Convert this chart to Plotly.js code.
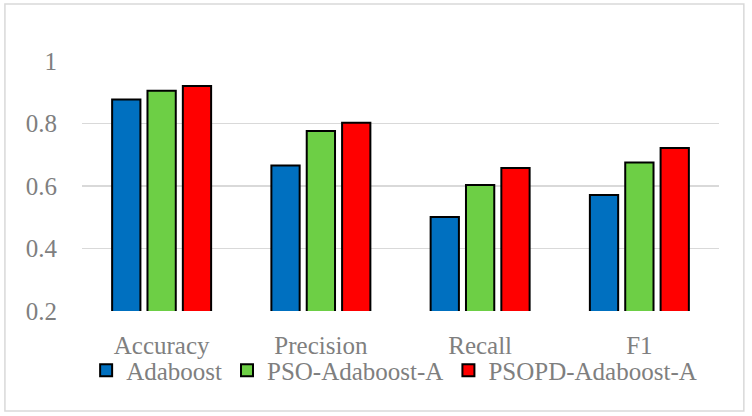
<!DOCTYPE html>
<html>
<head>
<meta charset="utf-8">
<script src="https://cdn.plot.ly/plotly-3.0.1.min.js"></script>
<style>html,body{margin:0;padding:0;background:#fff;}#chart{width:752px;height:416px;}</style>
</head>
<body>
<div id="chart"></div>
<script>
const categories = ["Accuracy", "Precision", "Recall", "F1"];
const seriesNames = ["Adaboost", "PSO-Adaboost-A", "PSOPD-Adaboost-A"];
const adaboost = [0.877, 0.666, 0.501, 0.571];
const psoAdaboostA = [0.905, 0.776, 0.603, 0.675];
const psopdAdaboostA = [0.920, 0.802, 0.658, 0.722];
const yTicks = [0.2, 0.4, 0.6, 0.8, 1];
const yTickLabels = ["0.2", "0.4", "0.6", "0.8", "1"];
const colors = ["#0070C0", "#6DCF45", "#FF0000"];

const font = "Liberation Serif";
const gray = "#7F7F7F";
const values = [adaboost, psoAdaboostA, psopdAdaboostA];
const traces = values.map((v, i) => ({
  type: "bar",
  name: seriesNames[i],
  x: categories,
  y: v,
  marker: {color: colors[i], line: {color: "#000", width: 2}},
  hoverinfo: "none"
}));

const layout = {
  width: 752, height: 416,
  font: {family: font, color: gray},
  margin: {l: 82, r: 33, t: 61, b: 105},
  paper_bgcolor: "#fff", plot_bgcolor: "#fff",
  barmode: "group", bargap: 0.334, bargroupgap: 0.2,
  showlegend: true,
  legend: {orientation: "h", x: 0.49, xanchor: "center", y: -0.238, yanchor: "middle",
           bgcolor: "rgba(0,0,0,0)", itemclick: false,
           font: {family: font, size: 25, color: gray}, itemwidth: 30, traceorder: "normal"},
  xaxis: {type: "category", showgrid: false, zeroline: false, showline: false,
          ticks: "", ticklabelstandoff: 17, tickfont: {family: font, size: 25, color: gray}},
  yaxis: {range: [0.2, 1], tickvals: yTicks, ticktext: yTickLabels, showgrid: true,
          gridcolor: "#D9D9D9", gridwidth: 1.5, zeroline: false, showline: false, ticks: "",
          ticklabelstandoff: 24, tickfont: {family: font, size: 25, color: gray}},
  shapes: [{type: "rect", xref: "paper", yref: "paper", x0: -0.121, x1: 1.039, y0: -0.40, y1: 1.228,
            line: {color: "#D9D9D9", width: 1.5}, fillcolor: "rgba(0,0,0,0)", layer: "below"}]
};
Plotly.newPlot("chart", traces, layout, {staticPlot: true, displayModeBar: false});
</script>
</body>
</html>
